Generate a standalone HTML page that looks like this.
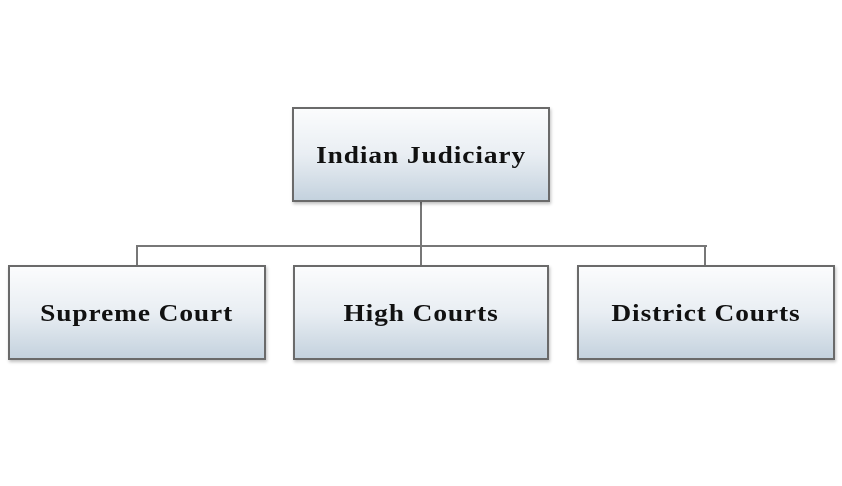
<!DOCTYPE html>
<html><head><style>
body{margin:0;width:842px;height:486px;background:#fff;position:relative;overflow:hidden}
.b{position:absolute;box-sizing:border-box;border:2px solid #6a6a6a;background:linear-gradient(#fbfcfd 0%,#e9eef3 50%,#c4d2de 100%);display:flex;align-items:center;justify-content:center;padding-top:3px;font-family:"Liberation Serif",serif;font-weight:bold;font-size:24px;color:#111;box-shadow:1px 2px 3px rgba(0,0,0,0.25)}
.b span{display:inline-block;transform:scaleX(1.14);letter-spacing:0.8px}
.l{position:absolute;background:#777}
</style></head><body>
<div class="l" style="left:420px;top:200px;width:2px;height:66px"></div>
<div class="l" style="left:137px;top:245px;width:570px;height:2px"></div>
<div class="l" style="left:136px;top:245px;width:2px;height:21px"></div>
<div class="l" style="left:704px;top:245px;width:2px;height:21px"></div>
<div class="b" style="left:292px;top:107px;width:258px;height:95px"><span>Indian Judiciary</span></div>
<div class="b" style="left:8px;top:265px;width:258px;height:95px"><span>Supreme Court</span></div>
<div class="b" style="left:293px;top:265px;width:256px;height:95px"><span>High Courts</span></div>
<div class="b" style="left:577px;top:265px;width:258px;height:95px"><span>District Courts</span></div>
</body></html>
